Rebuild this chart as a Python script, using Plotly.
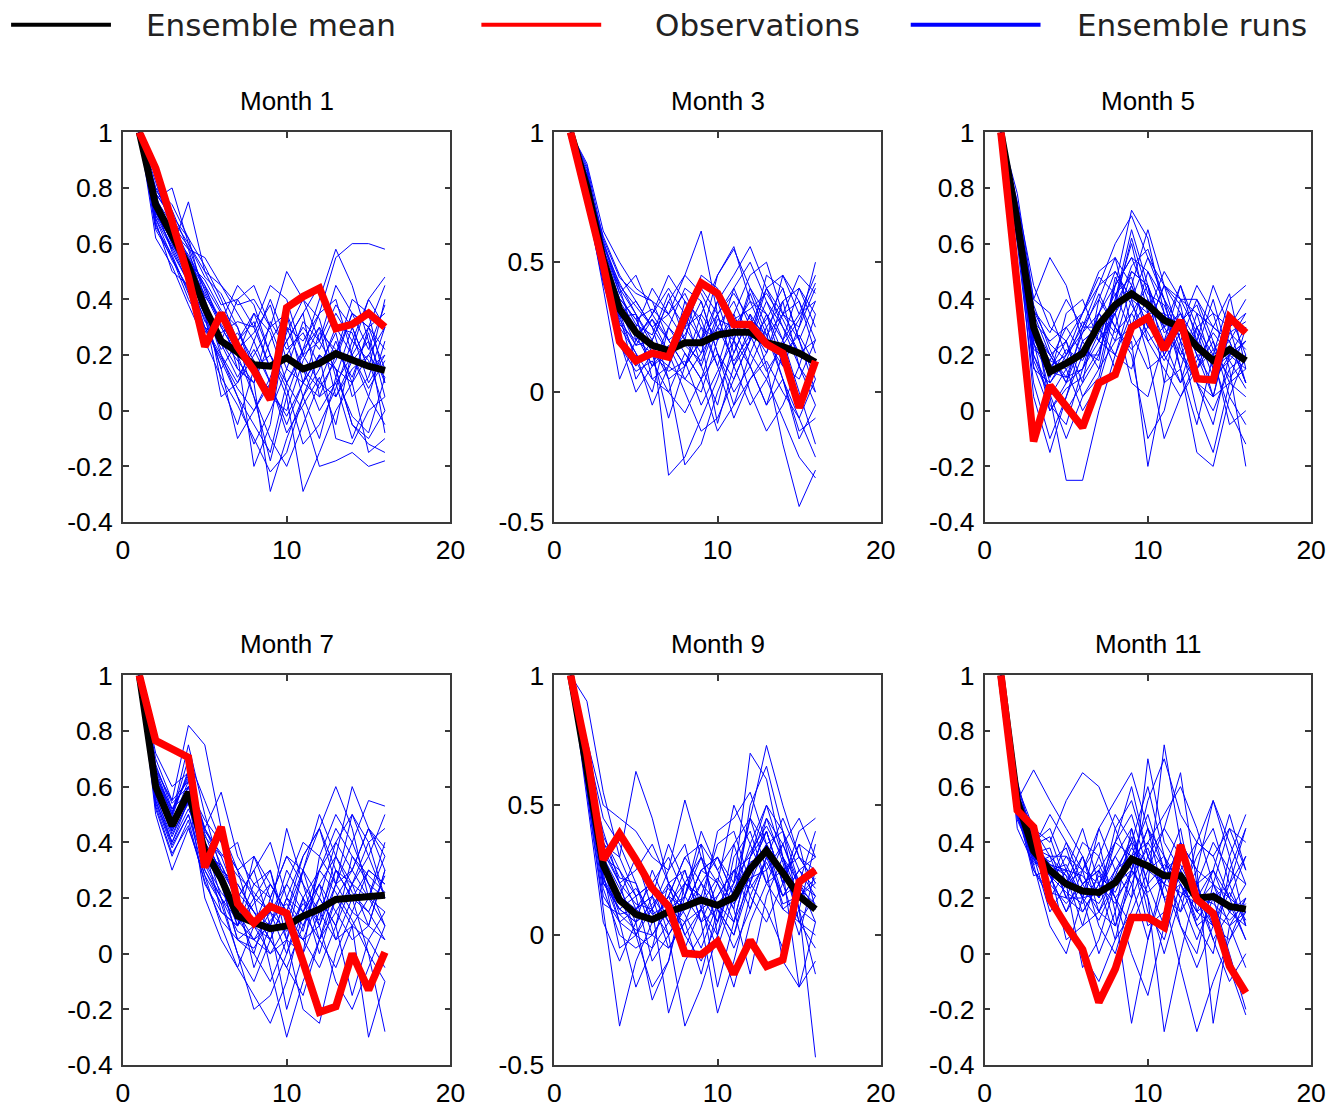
import plotly.graph_objects as go

# ---------------- data ----------------
lead = list(range(1, 17))
titles = ["Month 1", "Month 3", "Month 5", "Month 7", "Month 9", "Month 11"]
x_ticks = [0, 10, 20]
x_ticklabels = ["0", "10", "20"]
y_ticks_a = [-0.4, -0.2, 0, 0.2, 0.4, 0.6, 0.8, 1]
y_ticklabels_a = ["-0.4", "-0.2", "0", "0.2", "0.4", "0.6", "0.8", "1"]
y_ticks_b = [-0.5, 0, 0.5, 1]
y_ticklabels_b = ["-0.5", "0", "0.5", "1"]

mean_m1 = [1, .74, .63, .52, .37, .25, .21, .165, .16, .19, .15, .17, .205, .18, .16, .145]
obs_m1 = [1, .87, .68, .48, .23, .35, .23, .145, .04, .37, .41, .44, .295, .31, .35, .30]
runs_m1 = [
    [1, .80, .68, .55, .45, .30, .20, .35, .28, .10, .22, .30, .05, .18, .25, .10],
    [1, .72, .58, .75, .50, .38, .40, .30, .15, .25, .05, -.10, .12, .30, .15, .20],
    [1, .65, .55, .40, .30, .20, .05, -.05, -.15, .10, .20, .35, .55, .60, .60, .58],
    [1, .78, .70, .62, .40, .25, .15, .10, -.29, -.10, .05, .15, .30, .20, .05, -.05],
    [1, .70, .62, .50, .35, .05, .10, .20, .30, .50, .40, .25, .15, .10, .20, .30],
    [1, .76, .80, .60, .48, .42, .30, .15, .20, .05, -.29, -.15, .00, .10, .30, .45],
    [1, .68, .50, .45, .35, .15, -.10, .00, .10, .20, .30, .22, .35, .25, .40, .30],
    [1, .82, .65, .58, .55, .45, .35, .25, .10, -.05, .10, .20, .15, -.05, -.10, .00],
    [1, .74, .60, .48, .30, .25, .40, .45, .30, .15, .10, .05, .20, .35, .30, .15],
    [1, .66, .56, .42, .28, .35, .25, .05, -.10, -.20, -.05, .10, .25, .10, -.15, -.10],
    [1, .79, .72, .58, .38, .20, .10, .25, .40, .25, .35, .45, .30, .28, .10, .20],
    [1, .71, .62, .52, .42, .30, .20, -.20, -.05, .30, .15, .00, .10, -.10, .05, .25],
    [1, .75, .66, .48, .32, .28, .32, .30, .45, .40, .20, .10, .05, .15, .20, .12],
    [1, .69, .58, .46, .40, .10, -.05, .15, .05, .30, .25, .35, .40, .20, .30, .35],
    [1, .77, .64, .56, .45, .35, .15, .10, .25, .35, .10, .20, -.10, -.12, .00, .05],
    [1, .73, .60, .50, .36, .22, .28, .18, .05, .00, .18, .30, .20, .40, .35, .10],
    [1, .80, .74, .62, .52, .40, .25, .35, .20, .10, .00, -.20, -.18, -.15, -.20, -.18],
    [1, .67, .54, .44, .30, .18, .05, -.12, .00, .15, .32, .25, .38, .30, .15, .40],
    [1, .72, .63, .54, .44, .32, .45, .38, .20, .08, -.12, -.05, .08, .25, .18, .00],
    [1, .76, .62, .50, .34, .26, .18, .10, .32, .22, .28, .16, .28, .05, .12, .30],
    [1, .70, .59, .47, .38, .24, .12, .22, .10, -.08, .02, .12, -.05, .22, .40, .48],
    [1, .74, .64, .55, .41, .33, .20, .05, -.18, .05, .22, .40, .58, .45, .25, -.08],
    [1, .62, .52, .38, .25, .12, .02, -.10, -.22, -.15, .05, .20, .15, -.05, -.12, -.15],
    [1, .78, .69, .60, .50, .45, .38, .40, .30, .35, .20, .25, .45, .35, .30, .22],
    [1, .73, .57, .46, .33, .15, .25, .32, .15, .25, .35, .05, .10, .20, .08, .18],
    [1, .71, .61, .53, .47, .36, .30, .12, .08, -.02, .10, .28, .22, .12, .28, .05],
    [1, .76, .67, .59, .43, .31, .22, .28, .38, .18, .15, .08, .18, .35, .22, .38],
    [1, .69, .55, .43, .29, .19, .08, .00, .12, .28, .40, .33, .12, -.02, -.08, .12],
]

mean_m3 = [1, .79, .51, .32, .23, .18, .16, .19, .19, .22, .23, .23, .19, .175, .15, .115]
obs_m3 = [1, .75, .49, .195, .12, .15, .135, .29, .42, .38, .26, .26, .185, .15, -.06, .12]
runs_m3 = [
    [1, .85, .55, .40, .30, .20, .35, .45, .62, .30, .10, .25, .40, .30, .20, .35],
    [1, .78, .48, .30, .05, .15, -.10, .10, .20, .35, .45, .56, .40, .25, .10, .00],
    [1, .82, .60, .45, .35, .25, .05, -.28, -.20, .00, .15, .30, .20, .45, .35, .20],
    [1, .74, .40, .05, .20, .30, .40, .30, .10, -.05, .20, .10, -.05, .05, -.15, -.10],
    [1, .88, .62, .50, .40, .35, .20, .25, .30, .45, .55, .40, .30, .20, .30, .45],
    [1, .76, .45, .25, .15, -.05, .10, .05, .00, .20, .30, .15, .05, -.10, -.25, -.33],
    [1, .80, .52, .35, .25, .10, .25, .40, .35, .15, .00, .10, .25, .35, .40, .25],
    [1, .72, .42, .20, .00, .10, .15, .30, .20, .30, .40, .50, .35, .20, .00, -.20],
    [1, .84, .58, .38, .45, .30, .20, .10, .25, .10, -.10, .05, .15, .30, .25, .40],
    [1, .79, .50, .28, .18, .20, -.32, -.25, -.10, .05, .25, .35, .30, .15, -.05, .10],
    [1, .75, .47, .33, .25, .40, .30, .20, .45, .40, .20, .00, -.15, -.05, .10, .30],
    [1, .86, .56, .42, .30, .05, .00, .15, .05, .25, .35, .20, .45, .40, .20, .05],
    [1, .77, .44, .22, .10, .20, .35, .25, .15, .35, .15, .30, .10, -.20, -.44, -.30],
    [1, .81, .54, .36, .28, .15, .10, .35, .28, .10, .30, .45, .50, .30, .35, .15],
    [1, .73, .46, .30, .35, .25, .15, .00, -.15, -.10, .05, .20, .35, .25, .15, .20],
    [1, .83, .57, .40, .20, .30, .45, .35, .20, .45, .56, .35, .20, .10, .25, .50],
    [1, .78, .49, .27, .15, .05, .10, .25, .40, .30, .10, -.05, .05, .20, .40, .30],
    [1, .80, .53, .34, .22, .28, .20, .10, .30, .20, .40, .25, .15, .35, .10, -.05],
    [1, .76, .50, .31, .12, .00, .25, .15, .05, .15, -.05, .15, .30, .10, .05, .20],
    [1, .87, .59, .44, .38, .35, .30, .45, .38, .25, .20, .40, .25, .05, -.10, .05],
    [1, .77, .47, .29, .30, .18, .05, .10, .20, -.12, .10, .20, .40, .45, .30, .35],
    [1, .82, .55, .38, .26, .22, .38, .20, .10, .28, .25, .10, -.05, .15, .22, .10],
    [1, .79, .52, .36, .28, .32, .25, .18, .12, .30, .38, .28, .22, .30, .45, .38],
    [1, .74, .43, .18, .08, .12, .00, -.08, .05, -.15, -.05, .05, .12, .00, -.10, -.25],
    [1, .83, .58, .41, .33, .25, .30, .38, .25, .20, .28, .32, .38, .28, .15, .12],
    [1, .77, .48, .30, .22, .10, .18, .05, .15, .25, .12, .22, .08, .18, .28, .42],
    [1, .80, .51, .32, .18, .28, .15, .22, .35, .15, .05, .20, .28, .40, .20, .00],
    [1, .75, .46, .26, .20, .15, .08, .12, -.05, .08, .20, .38, .22, .05, -.18, -.05],
]

mean_m5 = [1, .68, .30, .14, .17, .205, .31, .38, .42, .38, .325, .30, .23, .18, .22, .18]
obs_m5 = [1, .45, -.11, .09, .015, -.06, .10, .13, .30, .335, .22, .325, .115, .11, .335, .28]
runs_m5 = [
    [1, .75, .45, .30, .25, .35, .45, .60, .70, .55, .40, .30, .45, .35, .30, .40],
    [1, .65, .20, .05, -.25, -.25, .00, .20, .40, .55, .45, .35, .20, .05, .10, .15],
    [1, .70, .35, .20, .10, .15, .25, .45, .72, .62, .35, .20, .10, -.05, .20, .30],
    [1, .60, .10, -.10, .05, .20, .35, .50, .40, .20, -.10, .05, .15, .30, .25, .10],
    [1, .78, .40, .55, .45, .25, .30, .35, .45, .30, .25, .45, .30, .20, .40, .45],
    [1, .68, .25, .00, .10, .30, .40, .30, .20, -.10, .00, .25, .40, .25, .05, -.05],
    [1, .72, .30, .15, .25, .10, .20, .45, .55, .50, .35, .15, -.15, -.20, .05, .20],
    [1, .62, .15, .10, .20, .35, .50, .55, .30, .40, .30, .35, .20, .10, .20, .25],
    [1, .66, .05, -.15, .05, .25, .15, .40, .60, .35, .20, .30, .10, .00, .15, -.20],
    [1, .70, .32, .25, .30, .20, .35, .25, .45, .65, .45, .40, .35, .30, .25, .35],
    [1, .64, .22, .18, .15, .00, .10, .30, .50, .45, .10, .15, .35, .15, .35, .20],
    [1, .74, .40, .35, .20, .30, .30, .20, .35, .25, .30, .45, .25, .45, .30, .10],
    [1, .69, .28, .12, .35, .40, .25, .35, .10, .05, .25, .10, .20, .20, -.05, .00],
    [1, .67, .20, .08, .00, .10, .40, .55, .45, .30, .45, .25, .00, -.15, .10, .30],
    [1, .71, .38, .22, .10, .25, .30, .15, .25, -.20, .10, .40, .40, .30, .42, .15],
    [1, .63, .18, .05, .15, .20, .20, .40, .65, .45, .30, .20, .30, .15, .20, .25],
    [1, .73, .36, .28, .40, .30, .45, .50, .40, .35, .35, .30, .15, .25, .10, .05],
    [1, .66, .26, .14, .12, .15, .35, .45, .55, .40, .25, .35, .25, .05, .30, .35],
    [1, .69, .30, .20, .25, .05, .15, .25, .30, .50, .40, .15, -.05, .20, .25, .10],
    [1, .72, .34, .02, -.05, .15, .28, .38, .50, .45, .20, .10, .30, .35, .15, .20],
    [1, .65, .24, .16, .20, .28, .42, .30, .22, .30, .45, .38, .12, .10, .35, .28],
    [1, .70, .32, .10, .18, .22, .18, .48, .38, .28, .18, .28, .25, .18, .00, -.12],
    [1, .68, .28, .18, .30, .35, .48, .42, .28, .15, .20, .32, .38, .22, .12, .18],
    [1, .64, .16, .00, .08, .12, .22, .35, .52, .58, .40, .25, .15, .22, .28, .32],
    [1, .71, .36, .24, .18, .32, .25, .20, .15, .35, .50, .40, .28, .12, .18, .08],
    [1, .67, .24, .12, .22, .18, .30, .42, .48, .25, .15, .05, .18, .28, .20, .15],
    [1, .70, .31, .06, -.10, .05, .12, .38, .62, .42, .38, .22, .10, .05, .28, .22],
    [1, .66, .27, .20, .12, .28, .35, .28, .35, .45, .28, .32, .22, .40, .18, .25],
]

mean_m7 = [1, .60, .46, .58, .37, .27, .135, .11, .09, .10, .135, .16, .195, .20, .205, .21]
obs_m7 = [1, .765, .735, .705, .31, .455, .18, .11, .17, .145, -.03, -.21, -.19, .00, -.13, .005]
runs_m7 = [
    [1, .70, .55, .82, .75, .45, .30, .10, .05, .20, .35, .45, .30, .25, .40, .45],
    [1, .55, .40, .55, .30, .20, .00, -.10, .05, -.05, .10, .25, .35, .60, .45, .30],
    [1, .62, .48, .60, .45, .35, .20, .30, .10, -.20, .00, .15, .05, .10, .20, .35],
    [1, .50, .30, .45, .28, .10, -.05, -.15, -.25, -.10, .15, .30, .45, .35, .25, .20],
    [1, .65, .50, .70, .55, .40, .30, .35, .25, .15, .05, -.05, .10, .25, .35, .50],
    [1, .58, .45, .60, .35, .25, .05, .00, .20, .35, .30, .10, -.10, -.20, -.05, .10],
    [1, .72, .60, .65, .40, .30, .25, .15, .10, .10, .30, .45, .60, .45, .20, .15],
    [1, .52, .35, .48, .25, .15, .10, .25, .30, .05, -.20, -.25, .00, .15, .30, .25],
    [1, .60, .47, .62, .42, .35, .40, .20, -.05, -.30, -.10, .05, .20, .10, .05, -.05],
    [1, .68, .52, .58, .38, .28, .15, .05, .15, .25, .40, .35, .25, .40, .55, .53],
    [1, .56, .42, .55, .30, .18, .00, -.20, -.15, .00, .20, .10, .30, .20, .00, -.28],
    [1, .63, .50, .75, .50, .30, .20, .30, .40, .20, .15, .25, .15, .05, .10, .30],
    [1, .54, .38, .50, .32, .20, .08, .05, .00, .10, .05, .20, .40, .50, .35, .20],
    [1, .66, .55, .62, .45, .58, .35, .25, .20, .35, .25, .05, -.05, .10, -.30, -.10],
    [1, .59, .44, .56, .20, .05, -.05, .10, .25, .15, .35, .45, .25, .30, .20, .40],
    [1, .61, .46, .58, .40, .30, .25, .15, .05, .20, .10, .20, .10, -.15, .05, .15],
    [1, .57, .40, .52, .38, .15, .10, .35, .20, .05, .00, .35, .50, .40, .25, .10],
    [1, .64, .52, .63, .35, .32, .20, -.05, .10, .30, .20, .00, .20, .30, .45, .35],
    [1, .53, .36, .46, .26, .12, .05, .10, .15, .00, .15, .25, .05, .20, .15, .05],
    [1, .67, .54, .60, .48, .40, .30, .20, .15, .45, .25, .15, .30, .20, .30, .25],
    [1, .58, .43, .54, .33, .22, .15, .00, -.10, .05, .30, .50, .35, .25, .10, .30],
    [1, .62, .49, .66, .43, .28, .10, .20, .30, .10, .05, .10, .25, .50, .40, .20],
    [1, .60, .45, .55, .40, .20, .12, .05, .10, .25, .15, .05, .15, .25, .20, .10],
    [1, .64, .50, .65, .45, .32, .18, .10, .00, .05, .20, .30, .40, .30, .45, .38],
    [1, .55, .39, .50, .28, .18, .22, .15, .05, -.05, -.15, .05, .25, .15, .10, .05],
    [1, .62, .48, .60, .38, .25, .10, .18, .25, .15, .30, .20, .10, .35, .28, .22],
    [1, .58, .44, .57, .36, .26, .05, .02, .12, .18, .08, .30, .22, .12, .00, -.10],
    [1, .66, .51, .64, .44, .36, .28, .22, .15, .08, .18, .12, .35, .22, .15, .28],
]

mean_m9 = [1, .62, .27, .135, .08, .06, .09, .11, .135, .115, .145, .255, .325, .24, .15, .10]
obs_m9 = [1, .70, .29, .39, .29, .18, .11, -.07, -.075, -.025, -.15, -.02, -.12, -.095, .205, .25]
runs_m9 = [
    [1, .70, .35, .30, .63, .45, .20, .10, .25, .30, .20, .45, .73, .50, .30, .20],
    [1, .55, .10, -.35, -.10, .05, .15, .00, .10, -.05, .15, .35, .50, .30, .10, -.47],
    [1, .65, .40, .20, .00, -.20, -.10, .20, .30, .20, .05, .30, .40, .20, .40, .45],
    [1, .60, .20, .10, .15, .20, .00, -.35, -.20, .00, .30, .40, .20, .10, .05, .15],
    [1, .75, .50, .45, .40, .30, .25, .52, .30, .10, .00, .20, .45, .35, .20, .10],
    [1, .58, .15, .05, -.20, -.05, .20, .25, .05, -.30, -.10, .15, .30, .45, .30, .25],
    [1, .68, .30, .25, .10, .15, .35, .20, .15, .35, .40, .20, .10, -.05, .10, .35],
    [1, .52, .05, -.10, .05, .25, .10, .15, .40, .25, .10, .50, .65, .40, .20, .05],
    [1, .62, .25, .15, .30, .10, -.30, -.10, .00, .15, .25, .10, .30, .25, -.20, -.10],
    [1, .72, .45, .35, .20, .05, .15, .30, .20, .05, .35, .45, .35, .15, .25, .30],
    [1, .57, .18, .00, -.05, .00, .10, .05, -.15, .10, .00, .25, .40, .20, .35, .10],
    [1, .64, .32, .20, .25, .35, .20, .10, .25, .20, .10, -.15, .15, .30, .05, .00],
    [1, .90, .55, .30, .15, .20, .05, -.05, .10, .40, .45, .55, .35, .10, .15, .20],
    [1, .59, .22, .10, .05, -.25, -.10, .15, .35, .00, -.20, .05, .20, .35, .45, .30],
    [1, .66, .28, .15, .00, .10, .25, .35, .10, .15, .25, .30, .50, .40, .10, -.15],
    [1, .61, .26, .05, .10, .15, -.05, .05, .20, .30, .15, .45, .25, -.10, -.20, .05],
    [1, .69, .36, .22, .20, .00, .10, .25, .05, .20, .50, .35, .20, .25, .30, .20],
    [1, .56, .12, .08, .10, .20, .30, .15, .30, .10, -.05, .10, .30, .15, .20, .40],
    [1, .63, .30, .18, .05, .10, .20, .00, -.10, .05, .20, .70, .60, .30, .15, .10],
    [1, .60, .24, -.05, .00, .15, .05, .20, .15, -.20, .05, .20, .35, .40, .25, .15],
    [1, .67, .38, .25, .15, -.10, .00, .10, .25, .30, .15, .25, .40, .20, .00, .25],
    [1, .62, .20, .12, .08, .05, .15, .30, .35, .25, .35, .15, .05, .20, .35, .30],
    [1, .64, .30, .15, .10, .05, .15, .10, .20, .12, .20, .32, .42, .30, .20, .15],
    [1, .60, .22, .05, .00, -.05, .05, .15, .05, .10, .15, .25, .35, .25, .10, .05],
    [1, .66, .34, .20, .12, .10, .00, .12, .15, .05, .25, .18, .28, .15, .25, .18],
    [1, .58, .20, .10, .05, .12, .18, .08, -.05, .12, .05, .30, .45, .28, .05, -.05],
    [1, .62, .28, .12, .18, .08, .12, .20, .12, .22, .12, .22, .25, .35, .18, .12],
    [1, .63, .26, .08, .02, .00, -.05, .05, .10, .00, .18, .28, .32, .12, .15, .22],
]

mean_m11 = [1, .55, .37, .30, .25, .225, .22, .255, .34, .315, .28, .28, .20, .205, .17, .16]
obs_m11 = [1, .515, .455, .195, .10, .015, -.175, -.055, .13, .13, .095, .39, .195, .145, -.045, -.14]
runs_m11 = [
    [1, .60, .45, .40, .55, .65, .60, .45, .30, .55, .70, .50, .40, .35, .45, .40],
    [1, .50, .30, .20, .10, .00, -.10, .05, .30, .45, .20, -.05, -.28, -.10, .05, .20],
    [1, .55, .66, .55, .45, .35, .20, .40, .60, .35, .25, .40, .30, .55, .40, .25],
    [1, .48, .35, .15, .25, .40, .35, .20, .00, -.15, .10, .30, .20, .05, -.10, .00],
    [1, .62, .40, .45, .30, .20, .45, .55, .65, .45, .30, .15, .40, .35, .20, .35],
    [1, .52, .28, .30, .05, .10, .30, .10, .25, .40, .50, .60, .45, .25, .10, -.05],
    [1, .58, .40, .25, .35, .30, .10, .00, .20, .70, .40, .30, .10, .00, .30, .45],
    [1, .45, .32, .35, .20, .15, .25, .35, .45, .20, .00, .20, .35, .45, .25, .10],
    [1, .56, .38, .50, .40, .25, .15, .30, .35, .10, .15, .35, .25, .10, .35, .50],
    [1, .54, .36, .28, .15, .30, .40, .15, -.25, .05, .30, .45, .15, .20, .00, -.20],
    [1, .60, .42, .20, .30, .45, .25, .40, .50, .30, .25, .10, .00, .25, .45, .30],
    [1, .50, .33, .30, .25, -.05, .05, .25, .40, .60, .35, .20, .30, -.25, .10, .15],
    [1, .57, .45, .35, .35, .25, .30, .20, .10, .25, .75, .40, .20, .30, .20, .05],
    [1, .53, .30, .22, .20, .35, .20, .45, .55, .35, .20, .25, .10, .15, -.05, -.22],
    [1, .58, .38, .32, .28, .10, .15, .10, .30, .20, -.28, .00, .25, .40, .30, .25],
    [1, .51, .35, .25, .40, .30, .45, .30, .20, .35, .45, .65, .25, .05, .15, .20],
    [1, .55, .36, .38, .20, .20, .00, .15, .45, .25, .10, .30, .40, .55, .35, .10],
    [1, .49, .34, .28, .15, .25, .30, .40, .35, .50, .30, .20, .05, .20, .25, .35],
    [1, .59, .40, .30, .30, .15, .25, .05, .15, .30, .45, .35, .20, .10, .05, .15],
    [1, .52, .32, .10, .00, .20, .35, .50, .40, .15, .05, .25, .15, .30, .50, .30],
    [1, .56, .39, .42, .25, .35, .15, .25, .30, .45, .35, .10, -.05, .10, .25, .45],
    [1, .54, .37, .33, .38, .20, .22, .35, .25, .05, .25, .40, .30, .25, .15, .10],
    [1, .57, .40, .32, .30, .28, .20, .30, .40, .32, .25, .22, .18, .25, .20, .15],
    [1, .53, .35, .28, .22, .18, .28, .22, .35, .40, .30, .35, .22, .15, .10, .20],
    [1, .55, .38, .35, .28, .22, .18, .28, .42, .25, .32, .28, .12, .22, .18, .05],
    [1, .52, .34, .25, .18, .25, .32, .20, .28, .38, .20, .15, .25, .30, .15, .25],
    [1, .58, .42, .30, .32, .20, .12, .25, .38, .30, .35, .25, .15, .10, .22, .12],
    [1, .54, .36, .30, .25, .30, .25, .18, .30, .22, .28, .32, .20, .18, .12, .18],
]

panels = [
    (runs_m1, mean_m1, obs_m1),
    (runs_m3, mean_m3, obs_m3),
    (runs_m5, mean_m5, obs_m5),
    (runs_m7, mean_m7, obs_m7),
    (runs_m9, mean_m9, obs_m9),
    (runs_m11, mean_m11, obs_m11),
]
y_ranges = [[-0.4, 1], [-0.5, 1], [-0.4, 1], [-0.4, 1], [-0.5, 1], [-0.4, 1]]
y_tick_sets = [
    (y_ticks_a, y_ticklabels_a), (y_ticks_b, y_ticklabels_b), (y_ticks_a, y_ticklabels_a),
    (y_ticks_a, y_ticklabels_a), (y_ticks_b, y_ticklabels_b), (y_ticks_a, y_ticklabels_a),
]

legend_names = ["Ensemble mean", "Observations", "Ensemble runs"]

# ---------------- layout geometry ----------------
W, H = 1334, 1108
# on-screen target positions (px) mapped to figure px (calibrated for the viewer)
def fx(px):
    return (px - 7.9) / 0.985

def fy(py):
    return (py - 13.1) / 0.9765

col_px = [(124, 452), (556, 883), (987, 1314)]
row_px = [(131, 523), (677, 1069)]

BLUE, RED, BLACK = "#0000ff", "#ff0000", "#000000"
AXC = "#3a3a3a"
TICKFONT = dict(family="Liberation Sans, Arial, sans-serif", size=26.5, color="#000")

fig = go.Figure()
layout = dict(
    width=W, height=H,
    margin=dict(l=0, r=0, t=0, b=0),
    paper_bgcolor="white", plot_bgcolor="white",
    showlegend=False,
)
annotations = []
shapes = []

for i, (runs, mean, obs) in enumerate(panels):
    r, c = divmod(i, 3)
    n = i + 1
    xa = "x" if n == 1 else f"x{n}"
    ya = "y" if n == 1 else f"y{n}"
    for run in runs:
        fig.add_trace(go.Scatter(x=lead, y=run, mode="lines", xaxis=xa, yaxis=ya,
                                 line=dict(color=BLUE, width=1), hoverinfo="skip"))
    fig.add_trace(go.Scatter(x=lead, y=mean, mode="lines", xaxis=xa, yaxis=ya,
                             line=dict(color=BLACK, width=7)))
    fig.add_trace(go.Scatter(x=lead, y=obs, mode="lines", xaxis=xa, yaxis=ya,
                             line=dict(color=RED, width=7.5)))
    x0, x1 = fx(col_px[c][0]), fx(col_px[c][1])
    y0, y1 = fy(row_px[r][0]), fy(row_px[r][1])
    common = dict(showline=True, linecolor=AXC, linewidth=1.5, mirror="allticks",
                  ticks="inside", ticklen=6, tickcolor=AXC, tickwidth=1.5,
                  showgrid=False, zeroline=False, tickfont=TICKFONT)
    yt, ytl = y_tick_sets[i]
    layout["xaxis" if n == 1 else f"xaxis{n}"] = dict(
        domain=[x0 / W, x1 / W], anchor=ya, range=[0, 20],
        tickvals=x_ticks, ticktext=x_ticklabels, ticklabelstandoff=3, **common)
    layout["yaxis" if n == 1 else f"yaxis{n}"] = dict(
        domain=[1 - y1 / H, 1 - y0 / H], anchor=xa, range=y_ranges[i],
        tickvals=yt, ticktext=ytl, ticklabelstandoff=3, **common)
    annotations.append(dict(
        text=titles[i], x=(x0 + x1) / 2 / W, y=1 - fy(row_px[r][0] - 31) / H,
        xref="paper", yref="paper", xanchor="center", yanchor="middle",
        showarrow=False, font=dict(family="Liberation Sans, Arial, sans-serif", size=26, color="#000")))

# legend keys drawn across the top
leg_items = [
    (legend_names[0], BLACK, 12, 112, 145),
    (legend_names[1], RED, 483, 603, 655),
    (legend_names[2], BLUE, 913, 1043, 1078),
]
ly = 1 - fy(23) / H
for name, col, lx0, lx1, tx in leg_items:
    shapes.append(dict(type="line", xref="paper", yref="paper",
                       x0=fx(lx0) / W, x1=fx(lx1) / W, y0=ly, y1=ly,
                       line=dict(color=col, width=4)))
    annotations.append(dict(text=name, x=fx(tx) / W, y=ly, xref="paper", yref="paper",
                            xanchor="left", yanchor="middle", showarrow=False,
                            font=dict(family="DejaVu Sans", size=31, color="#222")))

layout["annotations"] = annotations
layout["shapes"] = shapes
fig.update_layout(**layout)
fig.write_html("out.html")
